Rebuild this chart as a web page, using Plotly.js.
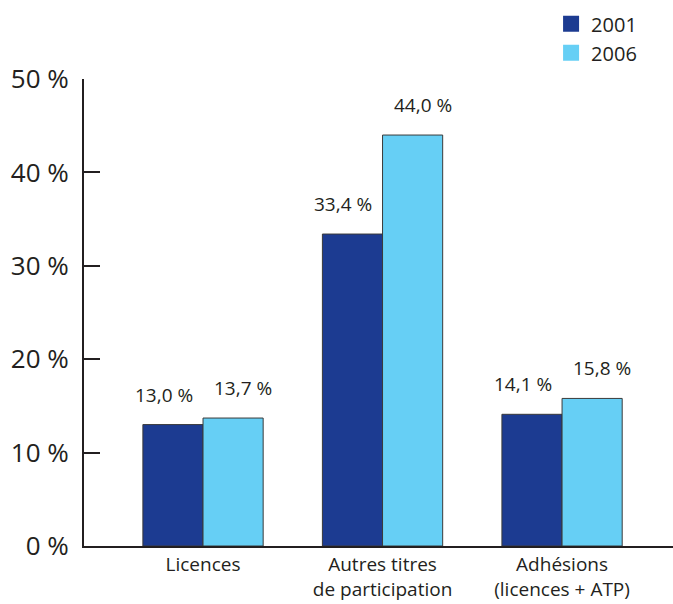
<!DOCTYPE html>
<html><head><meta charset="utf-8">
<script src="https://cdn.plot.ly/plotly-3.0.1.min.js"></script>
<style>body{margin:0;background:#fff}#c{width:673px;height:604px}</style>
</head><body><div id="c"></div>
<script>
var categories = ["Licences", "Autres titres<br>de participation", "Adhésions<br>(licences + ATP)"];
var seriesNames = ["2001", "2006"];
var values2001 = [13.0, 33.4, 14.1];
var values2006 = [13.7, 44.0, 15.8];
var labels2001 = ["13,0 %", "33,4 %", "14,1 %"];
var labels2006 = ["13,7 %", "44,0 %", "15,8 %"];
var yTickVals = [0, 10, 20, 30, 40, 50];
var yTickText = ["0 %", "10 %", "20 %", "30 %", "40 %", "50 %"];
var colors = ["#1c3b91", "#66cff5"];

var catIdx = categories.map(function(_, i){ return i; });
var bargap = 0.33;
var half = (1 - bargap) / 4;

var traces = [values2001, values2006].map(function(v, s){
  return {
    type: "bar", x: catIdx, y: v, name: seriesNames[s], showlegend: false,
    marker: {color: colors[s], line: {color: "#3a3a3a", width: 1}},
    hoverinfo: "none"
  };
});
// legend entries with larger square swatches
seriesNames.forEach(function(n, s){
  traces.push({
    type: "scatter", mode: "markers", x: [null], y: [null], name: n,
    marker: {symbol: "square", size: 16, color: colors[s]},
    hoverinfo: "none"
  });
});

var annotations = [];
[[values2001, labels2001, -1, -9], [values2006, labels2006, 1, 10]].forEach(function(a){
  a[0].forEach(function(v, i){
    annotations.push({
      x: i + a[2] * half, y: v, xref: "x", yref: "y",
      text: a[1][i], showarrow: false, yanchor: "bottom", yshift: 15, xshift: a[3],
      font: {family: "Open Sans, sans-serif", size: 19, color: "#231f20"}
    });
  });
});

var layout = {
  width: 673, height: 604,
  margin: {l: 84, r: 0, t: 79, b: 58, pad: 0},
  paper_bgcolor: "#fff", plot_bgcolor: "#fff",
  barmode: "group", bargap: bargap, bargroupgap: 0,
  showlegend: true,
  legend: {x: 0.793, y: 1.16, xanchor: "left", yanchor: "top",
    font: {family: "Open Sans, sans-serif", size: 20, color: "#231f20"},
    tracegroupgap: 0, itemwidth: 30, bgcolor: "rgba(0,0,0,0)", itemsizing: "trace"},
  xaxis: {
    range: [-0.663, 2.618], tickvals: catIdx, ticktext: categories,
    showgrid: false, zeroline: false, showline: true, linecolor: "#231f20", linewidth: 2,
    ticks: "", fixedrange: true, ticklabelstandoff: 0,
    tickfont: {family: "Open Sans, sans-serif", size: 19, color: "#231f20"}
  },
  yaxis: {
    range: [0, 50], tickvals: yTickVals, ticktext: yTickText,
    showgrid: false, zeroline: false, showline: true, linecolor: "#231f20", linewidth: 2,
    ticks: "inside", ticklen: 16, tickwidth: 2, tickcolor: "#231f20",
    ticklabelstandoff: 8,
    tickfont: {family: "Open Sans, sans-serif", size: 26, color: "#231f20"}
  },
  annotations: annotations
};

Plotly.newPlot("c", traces, layout, {displayModeBar: false, staticPlot: true});
</script>
</body></html>
